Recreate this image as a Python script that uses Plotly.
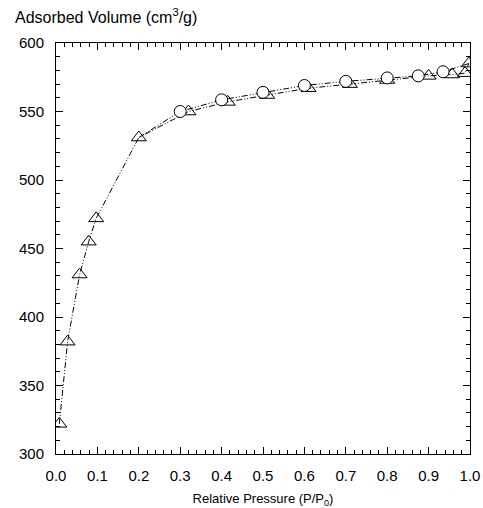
import plotly.graph_objects as go

# adsorption branch (open triangles)
ads_p = [0.008, 0.028, 0.057, 0.079, 0.097, 0.200, 0.320, 0.415, 0.51, 0.61, 0.71, 0.80, 0.90, 0.957, 0.988, 0.997]
ads_v = [322, 382, 431, 455, 472, 531, 550, 557, 562, 567, 570, 573, 576, 577, 578, 585]

# desorption branch (open circles)
des_p = [0.997, 0.935, 0.875, 0.80, 0.70, 0.60, 0.50, 0.40, 0.30, 0.20]
des_v = [585, 579, 576, 574.5, 572, 569, 564, 558.5, 550, 531]
des_size = [0, 12, 12, 12, 12, 12, 12, 12, 12, 0]

family = "Liberation Sans, Arial, sans-serif"
tickfont = dict(family=family, size=15, color="black")
dash = "6px,2px,1px,2px,1px,2px"

fig = go.Figure()
fig.add_trace(go.Scatter(
    x=ads_p, y=ads_v, mode="lines+markers",
    line=dict(color="black", width=1, dash=dash),
    marker=dict(symbol="triangle-up-open", size=13, color="black", line=dict(width=1)),
    showlegend=False))
fig.add_trace(go.Scatter(
    x=des_p, y=des_v, mode="lines+markers",
    line=dict(color="black", width=1, dash=dash),
    # size given as a list -> plotly would default to bubble opacity, so set it
    marker=dict(symbol="circle", size=des_size, color="white", opacity=1,
                line=dict(color="black", width=1)),
    showlegend=False))

axis_common = dict(
    showline=True, linecolor="black", linewidth=1, mirror="ticks",
    ticks="inside", ticklen=7, tickcolor="black", tickwidth=1,
    showgrid=False, zeroline=False, tickfont=tickfont, automargin=False,
    ticklabelstandoff=8)

fig.update_xaxes(range=[0, 1], dtick=0.1, tickformat=".1f",
                 minor=dict(dtick=0.02, ticks="inside", ticklen=4, tickcolor="black"),
                 title=dict(text="Relative Pressure (P/P<sub>0</sub>)",
                            font=dict(family=family, size=13, color="black"), standoff=16),
                 **axis_common)
fig.update_yaxes(range=[300, 600], dtick=50,
                 minor=dict(dtick=10, ticks="inside", ticklen=4, tickcolor="black"),
                 **axis_common)

fig.add_annotation(text="Adsorbed Volume (cm<sup>3</sup>/g)", xref="paper", yref="paper",
                   x=-0.105, y=1.037, xanchor="left", yanchor="bottom",
                   showarrow=False, font=dict(family=family, size=16, color="black"))

fig.update_layout(width=483, height=508, plot_bgcolor="white", paper_bgcolor="white",
                  margin=dict(l=56, r=13, t=43, b=54))

# drop the default 8px body margin so the figure fills the window exactly
fig.write_html("out.html", config={"displayModeBar": False},
               post_script="document.body.style.margin='0';")
